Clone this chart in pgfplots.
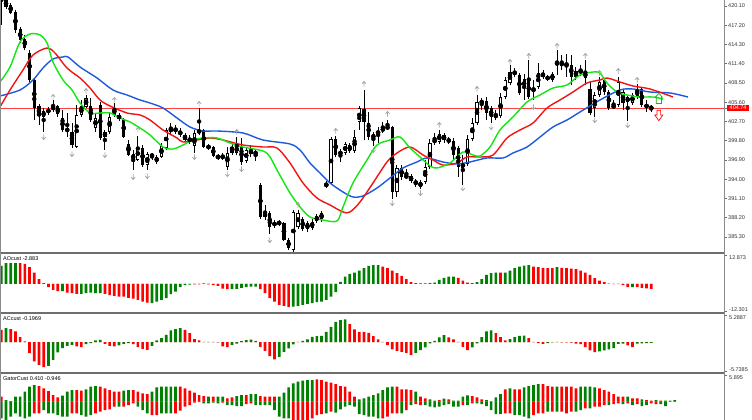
\documentclass[border=0pt]{standalone}
\usepackage{pgfplots}
\pgfplotsset{compat=1.18}
\usepackage{pgfplotstable}
\usepackage{fontspec}
\setmainfont{Liberation Sans}
\newcommand{\lab}{\fontsize{5.5}{6}\selectfont}
\definecolor{jaw}{RGB}{30,90,220}
\definecolor{teeth}{RGB}{240,20,20}
\definecolor{lips}{RGB}{20,230,20}
\definecolor{hgreen}{RGB}{0,128,0}
\definecolor{hred}{RGB}{255,0,0}
\definecolor{sep}{RGB}{110,110,110}
\definecolor{frac}{RGB}{165,165,165}

\pgfdeclareplotmark{fup}{%
 \pgfpathmoveto{\pgfqpoint{0pt}{-2.6pt}}\pgfpathlineto{\pgfqpoint{0pt}{2.6pt}}%
 \pgfpathmoveto{\pgfqpoint{-2pt}{0.2pt}}\pgfpathlineto{\pgfqpoint{0pt}{2.6pt}}\pgfpathlineto{\pgfqpoint{2pt}{0.2pt}}%
 \pgfusepathqstroke}
\pgfdeclareplotmark{fdn}{%
 \pgfpathmoveto{\pgfqpoint{0pt}{2.6pt}}\pgfpathlineto{\pgfqpoint{0pt}{-2.6pt}}%
 \pgfpathmoveto{\pgfqpoint{-2pt}{-0.2pt}}\pgfpathlineto{\pgfqpoint{0pt}{-2.6pt}}\pgfpathlineto{\pgfqpoint{2pt}{-0.2pt}}%
 \pgfusepathqstroke}
\pgfdeclareplotmark{sigdn}{%
 \pgfpathmoveto{\pgfqpoint{-1.8pt}{5.3pt}}\pgfpathlineto{\pgfqpoint{1.8pt}{5.3pt}}%
 \pgfpathlineto{\pgfqpoint{1.8pt}{0.5pt}}\pgfpathlineto{\pgfqpoint{4pt}{0.5pt}}%
 \pgfpathlineto{\pgfqpoint{0pt}{-5.2pt}}\pgfpathlineto{\pgfqpoint{-4pt}{0.5pt}}%
 \pgfpathlineto{\pgfqpoint{-1.8pt}{0.5pt}}\pgfpathclose\pgfusepathqstroke}
\pgfdeclareplotmark{sigup}{%
 \pgfpathmoveto{\pgfqpoint{-2.6pt}{-5pt}}\pgfpathlineto{\pgfqpoint{2.6pt}{-5pt}}%
 \pgfpathlineto{\pgfqpoint{2.6pt}{1.5pt}}\pgfpathlineto{\pgfqpoint{3.4pt}{1.5pt}}%
 \pgfpathlineto{\pgfqpoint{0pt}{5pt}}\pgfpathlineto{\pgfqpoint{-3.4pt}{1.5pt}}%
 \pgfpathlineto{\pgfqpoint{-2.6pt}{1.5pt}}\pgfpathclose\pgfusepathqstroke}

% candles: pixel rows (T,B = body top/bottom, H,L = high/low), u=1 white candle
\pgfplotstableread{
i T B H L u
0 -20 -6 -25 25 0
1 0 7 -2 9 0
2 5 13 3 14 0
3 12 30 10 33 0
4 29 40 27 43 0
5 39 48 35 50 0
6 53 80 50 82 0
7 80 108 78 120 0
8 106 116 104 125 0
9 111 117 108 132 1
10 109 113 107 115 1
11 106 110 100 112 1
12 106 114 105 117 0
13 118 130 110 132 0
14 128 132 113 137 0
15 132 145 123 148 0
16 115 147 105 148 1
17 106 115 100 117 1
18 98 107 95 108 1
19 106 120 98 122 0
20 118 128 113 132 1
21 105 138 102 140 0
22 132 137 130 150 1
23 117 132 112 134 1
24 108 115 103 117 1
25 115 119 113 121 0
26 119 137 118 138 0
27 144 155 140 156 0
28 154 160 150 170 1
29 147 160 136 161 1
30 148 165 145 167 0
31 154 165 152 170 1
32 154 157 153 160 0
33 157 162 155 164 0
34 146 157 143 158 1
35 130 148 128 150 1
36 128 132 123 134 1
37 128 132 125 134 0
38 131 135 128 137 0
39 135 140 133 141 0
40 138 142 135 144 1
41 133 146 130 153 1
42 130 133 108 135 1
43 130 147 129 148 0
44 146 148 144 150 1
45 147 156 146 157 0
46 156 158 154 160 0
47 155 159 153 160 1
48 153 167 147 170 1
49 147 153 142 155 1
50 146 153 137 155 1
51 147 162 138 165 0
52 150 161 148 163 1
53 150 154 145 157 0
54 152 154 149 161 1
55 185 217 183 219 0
56 213 217 205 220 1
57 213 227 211 234 0
58 222 226 220 228 1
59 222 224 220 226 1
60 223 240 222 241 0
61 240 248 238 250 0
62 212 250 210 252 1
63 213 227 210 229 1
64 219 229 217 231 0
65 223 229 221 232 0
66 222 228 219 230 1
67 216 221 214 223 1
68 213 219 211 222 1
69 183 187 181 188 1
70 139 183 137 185 1
71 139 155 136 157 0
72 152 154 149 162 1
73 144 153 142 155 1
74 145 151 143 153 0
75 137 151 130 153 1
76 108 122 106 130 1
77 109 122 90 140 0
78 123 137 112 140 0
79 134 139 132 146 1
80 131 134 127 143 1
81 128 131 122 133 1
82 127 128 120 130 1
83 127 192 126 199 0
84 168 192 165 197 1
85 168 177 165 180 0
86 175 178 169 179 0
87 176 181 174 183 0
88 181 184 179 187 0
89 182 187 180 189 0
90 167 182 160 184 1
91 143 167 139 169 1
92 139 143 133 145 1
93 134 142 130 144 1
94 135 140 133 143 0
95 139 142 137 144 0
96 141 155 138 160 0
97 148 167 146 177 0
98 163 168 155 185 1
99 139 164 135 166 1
100 123 139 118 141 1
101 102 123 95 125 1
102 101 103 98 110 0
103 101 113 97 120 0
104 108 117 106 123 0
105 115 117 110 120 1
106 97 116 93 118 1
107 80 97 77 99 1
108 72 83 65 85 1
109 71 75 68 77 0
110 75 93 73 95 0
111 79 88 74 100 0
112 80 97 60 99 0
113 88 91 80 100 1
114 73 87 63 89 1
115 73 77 70 79 0
116 77 79 75 81 0
117 74 80 72 82 1
118 62 65 50 75 0
119 63 65 55 70 1
120 63 66 54 77 0
121 65 77 55 85 0
122 71 77 67 80 1
123 70 73 65 76 1
124 72 78 60 85 0
125 89 113 82 115 0
126 95 108 92 117 1
127 82 95 77 97 1
128 80 92 78 95 0
129 92 108 90 110 0
130 105 108 100 109 1
131 82 105 77 107 1
132 92 103 90 110 1
133 97 102 95 121 1
134 95 103 93 105 1
135 89 97 84 99 0
136 89 105 87 107 0
137 104 108 100 112 0
138 107 108.5 105 112 0
}\candles

\pgfplotstableread{
i y
11 97
18 91
24 100
29 130
42 104
50 132
63 205
71 131
77 84
82 114
93 125
101 89
108 62
112 56
118 46
124 56
127 73
131 71
135 80
}\fracup

\pgfplotstableread{
i y
9 137
15 154
22 155
28 177
31 176
41 157
48 174
51 169
57 240
62 256
79 150
83 203
89 193
98 188
104 127
113 107
126 120
133 125
}\fracdn

\pgfplotstableread{
x y
0 96
20 90
33 80
43 68
53 59
63 57
68 57
80 67
97 78
113 90
127 95
140 100
150 103
163 108
177 118
190 127
203 131
217 131
243 133
263 140
290 144
300 150
310 163
320 173
330 183
343 192
353 197
363 196
377 188
390 178
403 168
417 162
427 158
443 162
457 164
470 162
487 158
503 158
513 153
527 147
540 137
553 127
567 120
580 112
600 100
620 90
633 89
650 92
670 93
688 97
}\jawtab

\pgfplotstableread{
x y
0 107
10 90
23 70
33 55
47 48
55 53
67 68
80 78
90 88
100 100
110 106
127 113
140 115
150 120
163 130
177 138
183 142
197 140
210 138
223 140
243 145
263 147
277 148
290 163
303 183
317 198
330 205
343 212
350 212
360 202
373 183
387 162
397 153
410 147
423 155
433 160
443 165
457 163
467 157
480 157
493 155
507 138
520 130
533 123
547 108
560 100
573 92
587 83
600 80
607 78
620 82
633 86
650 89
673 97
}\teethtab

\pgfplotstableread{
x y
0 82
10 67
20 42
30 34
40 35
47 43
53 62
63 80
72 90
80 103
90 113
100 113
110 113
120 118
130 122
140 128
150 135
163 147
173 149
183 145
193 140
203 138
217 138
230 143
243 147
263 151
270 157
277 170
290 193
300 207
310 217
323 220
337 221
343 207
353 183
367 160
377 145
390 140
400 137
410 148
420 157
430 166
437 168
450 163
463 152
473 155
480 156
490 147
500 130
513 117
527 102
540 95
553 88
567 85
580 75
593 72
600 73
607 83
617 92
627 95
640 97
653 97
663 99
}\lipstab

% AO bars, read in pixels from the zero line (c=1 green)
\pgfplotstableread{
i v c
0 18 1
1 20.7 1
2 20.7 1
3 20.7 1
4 20.7 0
5 20 0
6 16.7 0
7 11.3 0
8 4.7 0
9 0.7 0
10 -3.3 0
11 -6 0
12 -7.3 0
13 -7.3 1
14 -8.7 0
15 -9.3 0
16 -10 0
17 -10 1
18 -9.3 1
19 -8.7 1
20 -9.3 1
21 -9.3 1
22 -10 0
23 -11.3 0
24 -12 0
25 -12.7 0
26 -12.7 0
27 -14 0
28 -14.7 0
29 -16 0
30 -17.7 0
31 -18.7 0
32 -19.3 1
33 -17.7 1
34 -16 1
35 -14.3 1
36 -10.3 1
37 -7.7 1
38 -3.3 1
39 -1.3 1
40 -0.7 1
41 -0.5 0
42 -0.5 0
43 0.5 1
44 -0.5 0
45 -1.3 0
46 -2 0
47 -4.7 0
48 -5.3 0
49 -5.3 1
50 -5 1
51 -4 1
52 -3.3 1
53 -2.7 1
54 -2.7 1
55 -5.3 0
56 -9.3 0
57 -14.3 0
58 -17.7 0
59 -21 0
60 -22 0
61 -23.3 0
62 -22.7 1
63 -22 1
64 -21 1
65 -20 1
66 -19.3 1
67 -18.3 1
68 -17.7 1
69 -16 1
70 -12.7 1
71 -8.3 1
72 2 1
73 7.3 1
74 10 1
75 11.3 1
76 13.3 1
77 15.7 1
78 18 1
79 18.7 1
80 18.7 1
81 17.3 0
82 15.7 0
83 13.3 0
84 10.7 0
85 8 0
86 4.7 0
87 1.7 0
88 0.7 0
89 0.5 0
90 0.5 0
91 0.7 1
92 1.3 1
93 4 1
94 6 1
95 7.3 1
96 7.3 1
97 6 0
98 3.3 0
99 1.3 0
100 0.7 0
101 1.7 1
102 4.7 1
103 9 1
104 10.7 1
105 11.3 1
106 11.3 0
107 11.3 1
108 13.3 1
109 15.7 1
110 17.3 1
111 18.3 1
112 18.7 1
113 17.3 0
114 16.7 0
115 16 0
116 15.7 0
117 15.7 0
118 16.7 1
119 16 0
120 15.7 0
121 15.3 0
122 14.7 0
123 13.3 0
124 11.3 0
125 9 0
126 5.7 0
127 3.3 0
128 1.7 0
129 0.3 0
130 -0.3 0
131 -0.3 0
132 -1.3 0
133 -3.3 0
134 -3.3 1
135 -3.3 0
136 -4 0
137 -4.5 0
138 -5 0
}\aotab

\pgfplotstableread{
i v c
0 12.3 0
1 14 1
2 13 0
3 10.7 0
4 5 0
5 0.7 0
6 -11 0
7 -19.3 0
8 -22.7 0
9 -25 0
10 -23.7 1
11 -17.7 1
12 -10.3 1
13 -6 1
14 -3.7 1
15 -2.7 1
16 -4.3 0
17 -5 0
18 -2 1
19 -1 1
20 1.7 1
21 2.3 1
22 -1.7 0
23 -3.7 0
24 -4.3 0
25 -3.3 1
26 -1.7 1
27 -1 1
28 -2 0
29 -5 0
30 -6.7 0
31 -7.7 0
32 -3.7 1
33 1.7 1
34 4 1
35 7.3 1
36 11.7 1
37 13 1
38 14 1
39 12.3 0
40 9 0
41 3 0
42 1.7 0
43 0.3 0
44 0.2 0
45 0.1 0
46 -0.3 0
47 -4.3 0
48 -5 0
49 -3 1
50 -1.5 1
51 1 1
52 2 1
53 2.5 1
54 1.3 0
55 -4.7 0
56 -8.7 0
57 -14 0
58 -17.3 0
59 -14.7 1
60 -9.7 1
61 -6.3 1
62 -2.3 1
63 0.3 1
64 1.3 1
65 2.7 1
66 5.3 1
67 6 1
68 6.3 1
69 10.3 1
70 15.3 1
71 20.3 1
72 22 1
73 22.7 1
74 18 0
75 12.7 0
76 10.3 0
77 10.2 0
78 9.3 0
79 6 0
80 2.7 0
81 0.3 0
82 -3 0
83 -7.3 0
84 -8.7 0
85 -9.7 0
86 -10.7 0
87 -13 0
88 -10.7 1
89 -8 1
90 -5.3 1
91 -1.3 1
92 1.3 1
93 4.7 1
94 7 1
95 4.7 0
96 2.7 0
97 0.3 0
98 -4.7 0
99 -8 0
100 -5.3 1
101 -1.3 1
102 5 1
103 10.7 1
104 11.7 1
105 9 0
106 5 0
107 1.7 0
108 3 1
109 5 1
110 6.3 1
111 6.4 1
112 4 0
113 0.3 0
114 -1 0
115 -1.7 0
116 -1 1
117 -0.3 1
118 0.3 1
119 -0.3 0
120 -0.4 0
121 -0.5 0
122 -1.5 0
123 -2 0
124 -5 0
125 -8.3 0
126 -10 0
127 -9.3 1
128 -8.3 1
129 -7.3 1
130 -6 1
131 -1.7 1
132 -1.5 1
133 -3.3 0
134 -5 0
135 -1.5 1
136 -1.2 1
137 -1 1
138 -0.9 1
}\actab

% Gator: u = upper bar, d = lower bar (pixels), uc/dc = 1 green
\pgfplotstableread{
i u uc d dc
0 5 0 -16.7 1
1 1.7 1 -18.3 1
2 0.5 1 -15 1
3 5 1 -11.7 1
4 5 1 -15 1
5 10 1 -16.7 1
6 15 1 -15 1
7 16.7 1 -11.7 0
8 15.7 0 -11.7 0
9 13.3 0 -8.3 1
10 10.7 0 -11.7 1
11 6.7 0 -11.7 1
12 4.3 0 -13.3 1
13 6 1 -15 1
14 10 1 -15 1
15 11.7 1 -11.7 0
16 11.7 0 -11.7 0
17 11 0 -13.3 1
18 12.3 1 -15 1
19 15 1 -13.3 1
20 15.7 1 -11.7 0
21 15 0 -10 0
22 13.3 0 -8.3 0
23 11.7 0 -7.7 0
24 10 0 -5 0
25 10 0 -5 1
26 11 1 -5 0
27 11.7 1 -3.3 0
28 11.7 0 -1.7 0
29 10 0 -5 1
30 8.3 0 -8.3 1
31 7.7 0 -11.7 1
32 10 1 -13.3 0
33 14.3 1 -13.3 0
34 15 1 -11.7 1
35 15 1 -11.7 1
36 15 1 -11.7 1
37 15 1 -11.7 0
38 15 0 -9 0
39 13.3 0 -5 0
40 11 0 -3.3 0
41 9 0 -1 0
42 6.7 0 -0.3 0
43 5.7 0 -1.7 1
44 5 1 -1.7 1
45 5 0 -1 1
46 5 1 -1.7 1
47 5 1 -1 0
48 3.3 0 -3.3 1
49 4.3 0 -3.3 1
50 5.7 1 -4.3 1
51 6.7 1 -4.3 1
52 6.7 0 -2.3 0
53 7.7 1 -1.7 0
54 7.7 1 -3.3 1
55 5.7 0 -3.3 1
56 5 0 -3.3 1
57 5 0 -3.3 1
58 5 0 -8.3 1
59 5 1 -15 1
60 9 1 -16.7 1
61 14.3 1 -16.7 1
62 18.3 1 -18.3 0
63 20 1 -18.3 0
64 21 1 -18.3 0
65 21.7 1 -18.3 0
66 21.7 1 -16.7 0
67 22.3 0 -13.3 0
68 21.7 0 -12.3 0
69 20 0 -11.7 1
70 19 0 -10 0
71 17.7 0 -11 1
72 15.7 0 -7.7 1
73 15 0 -5 1
74 10 0 -3.3 1
75 5 0 -5 1
76 2.3 1 -12.3 1
77 3.3 1 -13.3 1
78 5 1 -15 1
79 6.7 1 -15 1
80 8.3 1 -16.7 1
81 11.7 1 -16.7 0
82 14.3 1 -15 0
83 15 1 -11.7 0
84 15 0 -11.7 0
85 12.3 0 -11.7 1
86 12.3 0 -8.3 0
87 11.7 0 -3.3 1
88 10 1 -2.3 0
89 5 0 -3.3 0
90 3.3 0 -3.3 1
91 2.3 1 -5 1
92 1 1 -5.7 1
93 1.7 0 -5 1
94 3 1 -3.3 1
95 2.3 0 -2.3 1
96 1 1 -5 1
97 1 1 -5 1
98 5 1 -3.3 0
99 6.3 1 -3.3 1
100 5.7 0 -1.7 0
101 4.3 0 -1.7 1
102 2.3 0 -2.3 1
103 1.7 1 -4.3 1
104 0.3 1 -8.3 1
105 4.3 1 -12.3 1
106 7.7 1 -12.3 1
107 12.3 0 -11.7 0
108 13.3 1 -11.7 0
109 12.3 0 -13.3 1
110 12.3 0 -13.3 1
111 14.3 1 -15 1
112 15.7 1 -16.7 1
113 16.7 1 -13.3 0
114 17.7 1 -11.7 0
115 17.7 0 -11.7 0
116 15.7 0 -10 1
117 15 0 -10 0
118 15 1 -10 1
119 15 0 -10 0
120 15 0 -11.7 0
121 15 0 -10 0
122 13.3 0 -10 1
123 15 1 -8.3 1
124 15 1 -6.7 0
125 15 1 -6.7 1
126 14.3 1 -5 0
127 13.3 0 -5 0
128 11.7 0 -3.3 0
129 10 0 -3.3 1
130 7.7 0 -2.3 0
131 5 0 -1.7 0
132 5 0 -2.3 1
133 5 1 -1.7 0
134 3.3 0 -3.3 1
135 3.3 0 -2.3 0
136 2.3 1 -4.3 1
137 1.7 0 -3.3 1
138 1 0 -1.7 0
139 1.7 1 -2.3 0
140 1 0 -2.3 1
141 1 1 -4.3 1
142 1 1 0 1
143 1.7 1 0 1
}\gatortab

\pgfplotsset{
 panel/.style={scale only axis, width=724pt,
   xmin=-0.276, xmax=153.44, axis line style={draw=none}, xtick=\empty,
   ytick pos=right, tick align=outside, major tick length=3pt,
   tick style={draw=sep, line width=0.6pt}},
 hbar/.style={ybar, bar width=2.7pt, bar shift=0pt, draw=none, fill=#1, forget plot},
}

\begin{document}
\begin{tikzpicture}
\useasboundingbox (0pt,0pt) rectangle (752pt,420pt);
\fill[white] (0pt,0pt) rectangle (752pt,420pt);

% ---------------- main price panel ----------------
\begin{axis}[panel, anchor=south west, at={(0pt,167.5pt)}, height=252.5pt,
  ymin=382.96, ymax=421,
  ytick={420.10,417.20,414.30,411.40,408.50,405.60,402.70,399.80,396.90,394.00,391.10,388.20,385.30},
  yticklabels={420.10,417.20,414.30,411.40,408.50,405.60,402.70,399.80,396.90,394.00,391.10,388.20,385.30},
  yticklabel style={font=\lab, text=black!80, inner sep=1pt},
  extra y ticks={404.74}, extra y tick labels={404.74},
  extra y tick style={yticklabel style={fill=red, text=white, inner xsep=2.5pt, inner ysep=1.2pt}},
]
\addplot[red!75, line width=0.6pt, forget plot] coordinates {(-1,404.74) (160,404.74)};
% wicks
\addplot[only marks, mark=none, forget plot, error bars/.cd, y dir=both, y explicit, error mark=none,
  error bar style={draw=black, solid, line width=0.9pt}]
  table[x=i, y expr={421-0.15065*(\thisrow{H}+\thisrow{L})/2}, y error expr={0.15065*(\thisrow{L}-\thisrow{H})/2}] {\candles};
% bodies
\addplot[only marks, mark=none, forget plot, error bars/.cd, y dir=both, y explicit, error mark=none,
  error bar style={draw=black, solid, line width=3.2pt}]
  table[x=i, y expr={421-0.15065*(\thisrow{T}+\thisrow{B})/2}, y error expr={0.15065*max((\thisrow{B}-\thisrow{T})/2,0.5)}] {\candles};
% white interiors
\addplot[only marks, mark=none, forget plot, error bars/.cd, y dir=both, y explicit, error mark=none,
  error bar style={draw=white, solid, line width=1.7pt}]
  table[x=i, y expr={421-0.15065*(\thisrow{T}+\thisrow{B})/2}, y error expr={\thisrow{u}*0.15065*max((\thisrow{B}-\thisrow{T})/2-0.75,0)}] {\candles};
% alligator
\addplot[jaw, line width=1.4pt, smooth, forget plot] table[x expr={(\thisrow{x}-1.3)/4.71}, y expr={421-0.15065*\thisrow{y}}] {\jawtab};
\addplot[teeth, line width=1.4pt, smooth, forget plot] table[x expr={(\thisrow{x}-1.3)/4.71}, y expr={421-0.15065*\thisrow{y}}] {\teethtab};
\addplot[lips, line width=1.4pt, smooth, forget plot] table[x expr={(\thisrow{x}-1.3)/4.71}, y expr={421-0.15065*\thisrow{y}}] {\lipstab};
% fractals
\addplot[only marks, mark=fup, mark options={draw=frac, line width=0.7pt}, forget plot] table[x=i, y expr={421-0.15065*\thisrow{y}}] {\fracup};
\addplot[only marks, mark=fdn, mark options={draw=frac, line width=0.7pt}, forget plot] table[x=i, y expr={421-0.15065*\thisrow{y}}] {\fracdn};
% signals
\addplot[only marks, mark=sigup, mark options={draw=lips!80!black, line width=0.7pt}, forget plot] coordinates {(139.6,406.16)};
\addplot[only marks, mark=sigdn, mark options={draw=red, line width=0.7pt}, forget plot] coordinates {(139.6,403.60)};
\end{axis}

% ---------------- AO panel ----------------
\begin{axis}[panel, anchor=south west, at={(0pt,108.5pt)}, height=56.5pt, ymin=-12.301, ymax=12.873,
  ytick={-12.301,12.873}, yticklabels={,,}]
\addplot[hbar=hgreen] table[x=i, y expr={\thisrow{c}*\thisrow{v}*0.4456}] {\aotab};
\addplot[hbar=hred] table[x=i, y expr={(1-\thisrow{c})*\thisrow{v}*0.4456}] {\aotab};
\end{axis}

% ---------------- AC panel ----------------
\begin{axis}[panel, anchor=south west, at={(0pt,48.5pt)}, height=56.5pt, ymin=-5.7385, ymax=5.2887,
  ytick={-5.7385,5.2887}, yticklabels={,,}]
\addplot[hbar=hgreen] table[x=i, y expr={\thisrow{c}*\thisrow{v}*0.1952}] {\actab};
\addplot[hbar=hred] table[x=i, y expr={(1-\thisrow{c})*\thisrow{v}*0.1952}] {\actab};
\end{axis}

% ---------------- Gator panel ----------------
\begin{axis}[panel, anchor=south west, at={(0pt,0pt)}, height=45pt, ymin=-4.04, ymax=5.895,
  ytick={5.895}, yticklabels={,,}]
\addplot[hbar=hgreen] table[x=i, y expr={\thisrow{uc}*\thisrow{u}*0.2208}] {\gatortab};
\addplot[hbar=hred] table[x=i, y expr={(1-\thisrow{uc})*\thisrow{u}*0.2208}] {\gatortab};
\addplot[hbar=hgreen] table[x=i, y expr={\thisrow{dc}*\thisrow{d}*0.2208}] {\gatortab};
\addplot[hbar=hred] table[x=i, y expr={(1-\thisrow{dc})*\thisrow{d}*0.2208}] {\gatortab};
\end{axis}

% frame lines
\draw[sep, line width=1.8pt] (0pt,166.7pt) -- (724pt,166.7pt);
\draw[sep, line width=1.8pt] (0pt,106.7pt) -- (724pt,106.7pt);
\draw[sep, line width=1.8pt] (0pt,46.7pt) -- (724pt,46.7pt);
\draw[sep!80, line width=1pt] (724.5pt,0pt) -- (724.5pt,420pt);
\draw[sep!80, line width=1pt] (0.5pt,0pt) -- (0.5pt,420pt);

% panel texts
\node[anchor=north west, font=\lab, inner sep=0pt] at (3pt,163.5pt) {AOcust -2.883};
\node[anchor=north west, font=\lab, inner sep=0pt] at (3pt,103.5pt) {ACcust -0.1969};
\node[anchor=north west, font=\lab, inner sep=0pt] at (3pt,43.5pt) {GatorCust 0.410 -0.946};
\node[anchor=north west, font=\lab, text=black!80, inner sep=0pt] at (729pt,164.3pt) {12.873};
\node[anchor=south west, font=\lab, text=black!80, inner sep=0pt] at (729pt,108.6pt) {-12.301};
\node[anchor=north west, font=\lab, text=black!80, inner sep=0pt] at (729pt,104.6pt) {5.2887};
\node[anchor=south west, font=\lab, text=black!80, inner sep=0pt] at (729pt,48.6pt) {-5.7385};
\node[anchor=north west, font=\lab, text=black!80, inner sep=0pt] at (729pt,44.6pt) {5.895};
\end{tikzpicture}
\end{document}
